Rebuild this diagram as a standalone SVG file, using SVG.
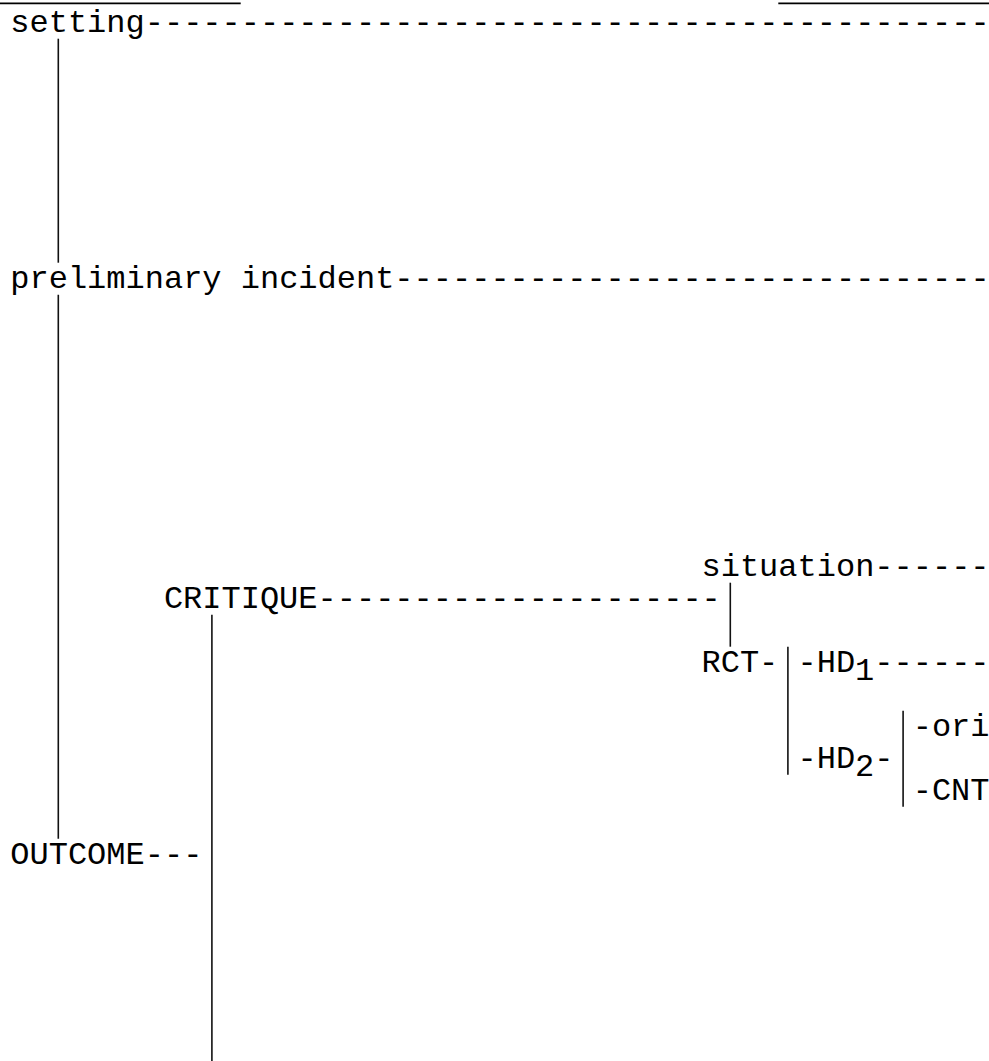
<svg xmlns="http://www.w3.org/2000/svg" width="989" height="1061" viewBox="0 0 989 1061">
<style>
text{font-family:"Liberation Mono","Courier New",monospace;font-size:32px;fill:#000}
.c line{stroke:#111;stroke-width:1.6}
.u{stroke:#000;stroke-width:1.8}
</style>
<rect width="989" height="1061" fill="#fff"/>
<g id="header">
<line class="u" x1="0" y1="3.3" x2="240.7" y2="3.3"/>
<line class="u" x1="778.3" y1="3.3" x2="989" y2="3.3"/>
</g>
<g class="c" id="connectors">
<line x1="58.3" y1="38.7" x2="58.3" y2="262.7"/>
<line x1="58.3" y1="294.7" x2="58.3" y2="838.7"/>
<line x1="211.9" y1="614.7" x2="211.9" y2="1061"/>
<line x1="730.3" y1="582.7" x2="730.3" y2="646.7"/>
<line x1="787.9" y1="646.7" x2="787.9" y2="774.7"/>
<line x1="903.1" y1="710.7" x2="903.1" y2="806.7"/>
</g>
<g id="setting"><text x="10.3" y="32">setting--------------------------------------------</text></g>
<g id="preliminary"><text x="10.3" y="288">preliminary incident-------------------------------</text></g>
<g id="situation"><text x="701.5" y="576">situation------</text></g>
<g id="critique"><text x="163.9" y="608">CRITIQUE---------------------</text></g>
<g id="rct"><text x="701.5" y="672">RCT-</text></g>
<g id="hd1"><text x="797.5" y="672">-HD<tspan dy="8">1</tspan><tspan dy="-8">------</tspan></text></g>
<g id="ori"><text x="912.7" y="736">-ori</text></g>
<g id="hd2"><text x="797.5" y="768">-HD<tspan dy="8">2</tspan><tspan dy="-8">-</tspan></text></g>
<g id="cnt"><text x="912.7" y="800">-CNT</text></g>
<g id="outcome"><text x="10.3" y="864">OUTCOME---</text></g>
</svg>
